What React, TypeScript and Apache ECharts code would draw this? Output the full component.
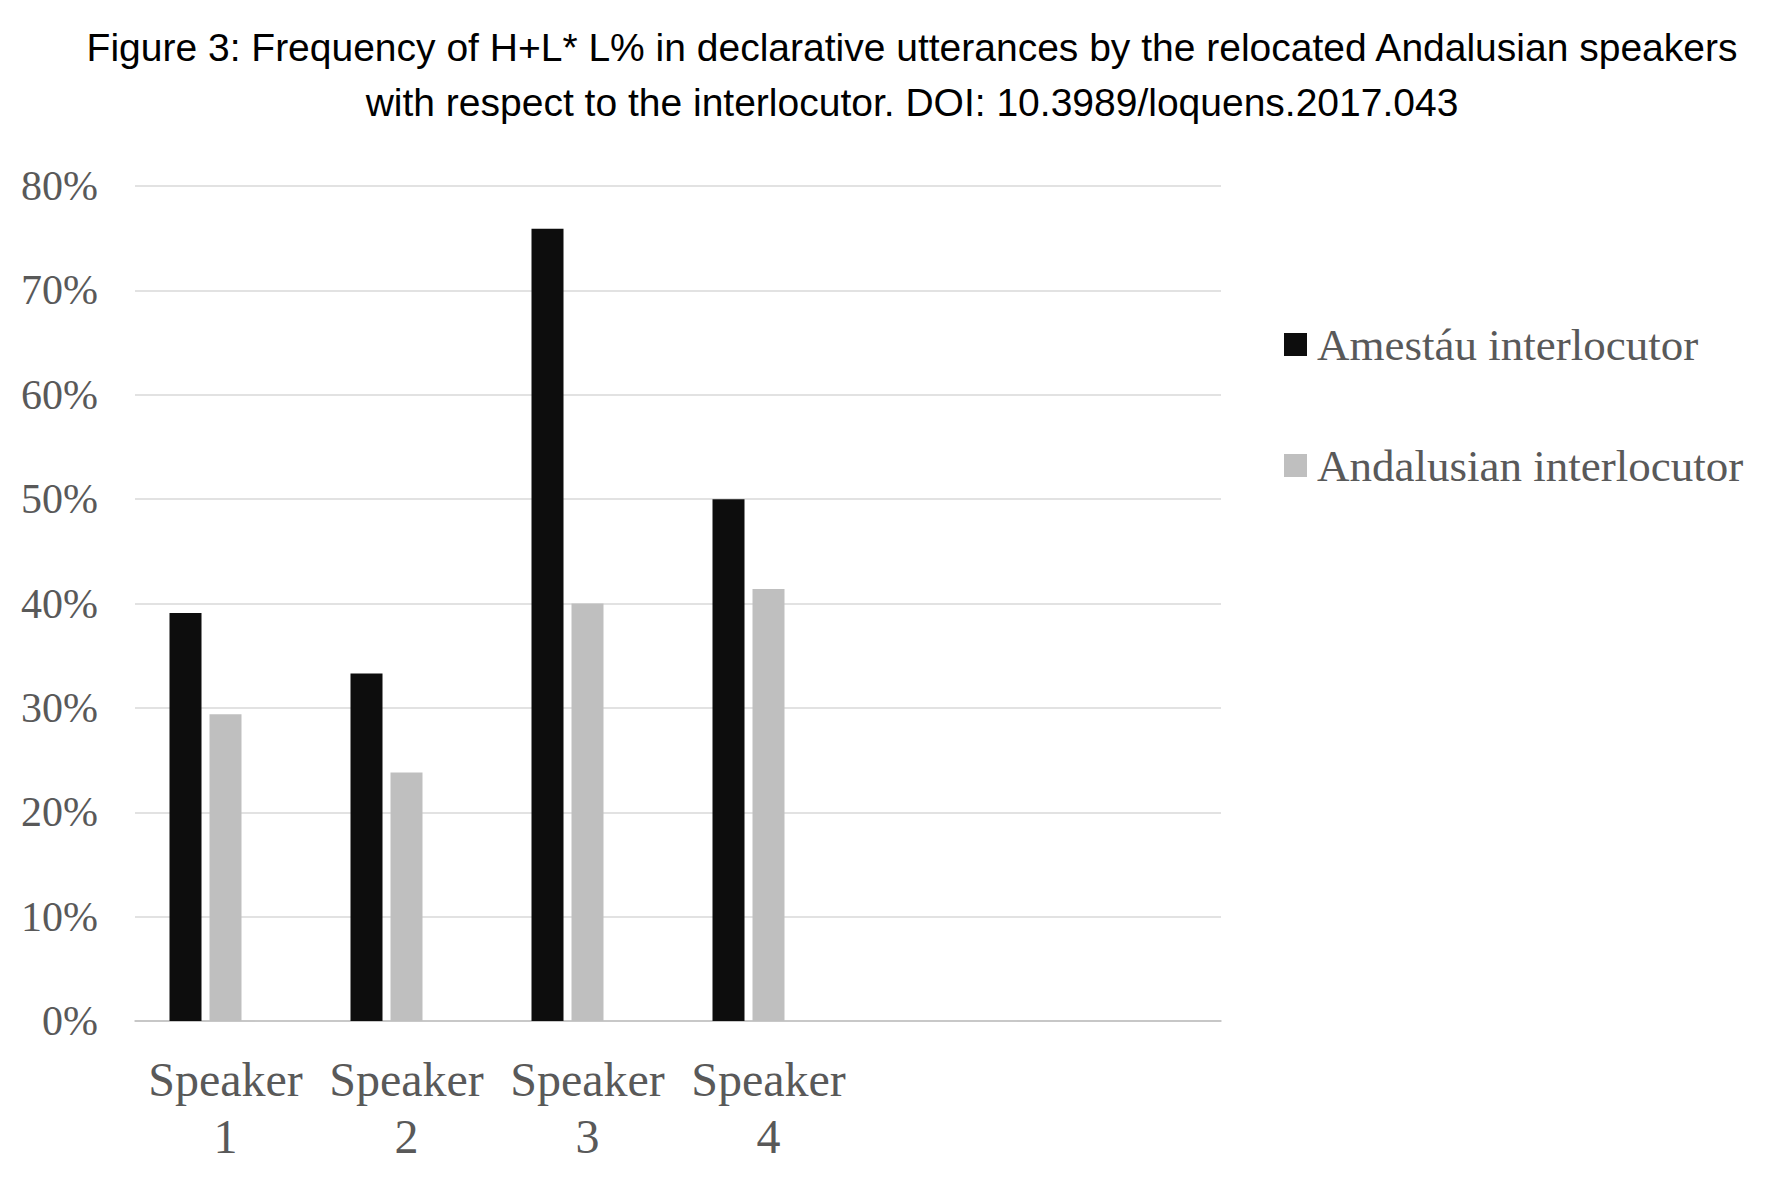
import React, { useEffect, useRef } from "react";
import * as echarts from "echarts";

const titleLines = [
  "Figure 3: Frequency of H+L* L% in declarative utterances by the relocated Andalusian speakers",
  "with respect to the interlocutor. DOI: 10.3989/loquens.2017.043",
];
const categories = ["Speaker\n1", "Speaker\n2", "Speaker\n3", "Speaker\n4", "", ""];
const seriesNames = ["Amestáu interlocutor", "Andalusian interlocutor"];
const amestauValues = [39.1, 33.3, 75.9, 50.0, null, null];
const andalusianValues = [29.4, 23.8, 40.0, 41.4, null, null];
const emptyValues = [null, null, null, null, null, null];

export default function App() {
  const ref = useRef<HTMLDivElement>(null);
  useEffect(() => {
    if (!ref.current) return;
    const chart = echarts.init(ref.current, undefined, { renderer: "svg" });
    const serif = "'Liberation Serif', 'Times New Roman', serif";
    chart.setOption({
      animation: false,
      backgroundColor: "#ffffff",
      graphic: [
        {
          type: "text",
          x: 912,
          y: 20,
          style: {
            text: titleLines.join("\n"),
            textAlign: "center",
            textVerticalAlign: "top",
            font: "39px 'Liberation Sans', Arial, sans-serif",
            lineHeight: 55,
            fill: "#000000",
          },
        },
      ],
      legend: {
        data: seriesNames,
        orient: "vertical",
        left: 1284,
        top: 322,
        padding: 0,
        itemWidth: 23,
        itemHeight: 23,
        itemGap: 76,
        icon: "rect",
        textStyle: {
          fontFamily: serif,
          fontSize: 45,
          lineHeight: 45,
          color: "#595959",
          padding: [0, 0, 0, 5],
        },
      },
      grid: { left: 135, right: 566, top: 186, bottom: 160, containLabel: false },
      xAxis: {
        type: "category",
        data: categories,
        axisTick: { show: false },
        axisLine: { lineStyle: { color: "#bfbfbf", width: 1.5 } },
        axisLabel: {
          interval: 0,
          margin: 30,
          fontFamily: serif,
          fontSize: 48,
          lineHeight: 57,
          color: "#595959",
        },
      },
      yAxis: {
        type: "value",
        min: 0,
        max: 80,
        interval: 10,
        axisLine: { show: false },
        axisTick: { show: false },
        splitLine: { lineStyle: { color: "#d9d9d9", width: 1.5 } },
        axisLabel: {
          formatter: "{value}%",
          margin: 37,
          fontFamily: serif,
          fontSize: 42,
          color: "#595959",
        },
      },
      series: [
        {
          name: seriesNames[0],
          type: "bar",
          data: amestauValues,
          barWidth: 32,
          barGap: "25%",
          itemStyle: { color: "#0d0d0d" },
        },
        {
          name: seriesNames[1],
          type: "bar",
          data: andalusianValues,
          barWidth: 32,
          barGap: "25%",
          itemStyle: { color: "#bfbfbf" },
        },
        {
          name: "hidden",
          type: "bar",
          data: emptyValues,
          barWidth: 32,
          barGap: "25%",
          itemStyle: { color: "#7f7f7f" },
        },
      ],
    });
    return () => chart.dispose();
  }, []);
  return (
    <div
      ref={ref}
      style={{ position: "fixed", left: 0, top: 0, width: 1787, height: 1181 }}
    />
  );
}
